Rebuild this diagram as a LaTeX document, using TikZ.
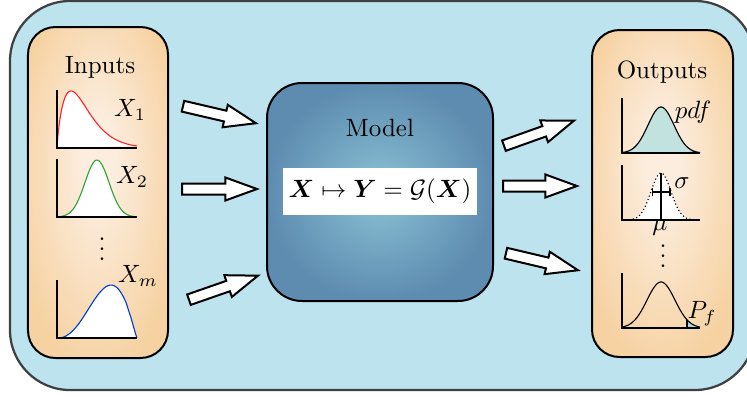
\documentclass[tikz,border=0pt]{standalone}
\usepackage{amsmath,amssymb}
\usetikzlibrary{shapes.arrows,arrows.meta,calc,positioning}
\definecolor{framebg}{RGB}{189,228,238}
\definecolor{panelin}{RGB}{252,237,222}
\definecolor{panelout}{RGB}{246,210,162}
\definecolor{modelin}{RGB}{138,194,212}
\definecolor{modelout}{RGB}{94,140,176}
\definecolor{pdffill}{RGB}{194,226,224}
\definecolor{tailfill}{RGB}{170,214,232}
\pgfdeclareradialshading{panelglow}{\pgfpoint{0bp}{6bp}}{color(0bp)=(panelin); color(6bp)=(panelin); color(30bp)=(panelout); color(50bp)=(panelout)}

\begin{document}
\begin{tikzpicture}[x=0.4pt, y=0.4pt,
  frame/.style={draw=black!75, line width=0.9pt, fill=framebg, rounded corners=24pt, minimum width=298pt, minimum height=155.6pt},
  panel/.style={draw, line width=0.8pt, rounded corners=11pt, shade, shading=panelglow},
  modelbox/.style={draw, line width=0.8pt, rounded corners=14pt, shade, shading=radial, inner color=modelin, outer color=modelout, minimum width=90.4pt, minimum height=87.2pt},
  fatarrow/.style={single arrow, draw, fill=white, line width=0.8pt, inner sep=1.8pt, single arrow head extend=2.4pt, single arrow tip angle=40},
  dots/.style={anchor=base, inner sep=0pt, text height=9.5pt},
  axis/.style={line width=0.45pt},
  curve/.style={line width=0.45pt}
]
  \useasboundingbox (0,0) rectangle (747,396);

  % boxes
  \node[frame] (frame) at (382.5,200.5) {};
  \node[panel, minimum width=56pt, minimum height=132.4pt] (inputs) at (98,203.5) {};
  \node[panel, minimum width=56.4pt, minimum height=130.8pt] (outputs) at (662.5,202.5) {};
  \node[modelbox] (model) at (380,204) {};

  \node (intitle) at (100,329) {Inputs};
  \node (outtitle) at (662,324) {Outputs};
  \node (modeltitle) at (380,268) {Model};
  \node[fill=white, inner xsep=2.4pt, minimum height=18.8pt] (mapping) at (380,205)
    {$\boldsymbol{X}\mapsto\boldsymbol{Y}=\mathcal{G}(\boldsymbol{X})$};

  % input pdfs
  \begin{scope}[shift={(57,248)}]
    \fill[white] plot[domain=0.01:80, samples=80] (\x,{57*(\x/14)^0.8*exp(0.6667*(1-(\x/14)^1.2))}) -- (0,0) -- cycle;
    \draw[curve, red!85!white] plot[domain=0.01:80, samples=80] (\x,{57*(\x/14)^0.8*exp(0.6667*(1-(\x/14)^1.2))});
    \draw[axis] (0,58) -- (0,0) -- (80,0);
  \end{scope}
  \begin{scope}[shift={(57,179)}]
    \fill[white] plot[domain=0:80, samples=60] (\x,{57*exp(-((\x-40)*(\x-40))/288)}) -- (0,0) -- cycle;
    \draw[curve, green!55!black!80!white] plot[domain=0:80, samples=60] (\x,{57*exp(-((\x-40)*(\x-40))/288)});
    \draw[axis] (0,58) -- (0,0) -- (80,0);
  \end{scope}
  \begin{scope}[shift={(57,58)}]
    \fill[white] plot[domain=0.01:79.9, samples=70] (\x,{545*(\x/80)^2.5*(1-\x/80)^1.2}) -- (79.9,0) -- (0,0) -- cycle;
    \draw[curve, blue!70!cyan!80!black] plot[domain=0.01:79.9, samples=70] (\x,{545*(\x/80)^2.5*(1-\x/80)^1.2});
    \draw[axis] (0,58) -- (0,0) -- (80,0);
  \end{scope}
  \node (labx1) at (130,286) {$X_1$};
  \node (labx2) at (132,219) {$X_2$};
  \node (labxm) at (138,120) {$X_m$};
  \node[dots] (indots) at (102,136) {$\vdots$};

  % output pdfs
  \begin{scope}[shift={(622,243)}]
    \filldraw[curve, fill=pdffill] (0,0) -- plot[domain=0:78, samples=60] (\x,{46*exp(-((\x-39)*(\x-39))/338)}) -- cycle;
    \draw[axis] (0,55) -- (0,0) -- (78,0);
  \end{scope}
  \begin{scope}[shift={(622,176)}]
    \fill[white] (0,0) -- plot[domain=0:78, samples=60] (\x,{47*exp(-((\x-39)*(\x-39))/200)}) -- cycle;
    \draw[curve, densely dotted] plot[domain=0:78, samples=60] (\x,{47*exp(-((\x-39)*(\x-39))/200)});
    \draw[axis] (39,0) -- (39,47);
    \draw[{Bar[width=3.5pt]}-{Bar[width=3.5pt]}, line width=0.7pt] (29.5,28) -- (48.5,28);
    \draw[axis] (0,55) -- (0,0) -- (78,0);
  \end{scope}
  \begin{scope}[shift={(622,68)}]
    \fill[tailfill] (65,0) -- plot[domain=65:78, samples=20] (\x,{46*exp(-((\x-39)*(\x-39))/392)}) -- (78,0) -- cycle;
    \draw[curve] plot[domain=0:78, samples=60] (\x,{46*exp(-((\x-39)*(\x-39))/392)});
    \draw[axis] (65,0) -- (65,8.2);
    \draw[axis] (0,55) -- (0,0) -- (78,0);
  \end{scope}
  \node (labpdf) at (693,284) {$pdf$};
  \node (labsigma) at (682,213) {$\sigma$};
  \node (labmu) at (660,168.5) {$\mu$};
  \node (labpf) at (702,82) {$P_f$};
  \node[dots] (outdots) at (663,129) {$\vdots$};

  % block arrows
  \coordinate (in1a) at (182,290);  \coordinate (in1b) at (255,273);
  \coordinate (in2a) at (181,207);  \coordinate (in2b) at (256,207);
  \coordinate (in3a) at (188,96);   \coordinate (in3b) at (257,120);
  \coordinate (out1a) at (503,250); \coordinate (out1b) at (573,275);
  \coordinate (out2a) at (502,210); \coordinate (out2b) at (576,210);
  \coordinate (out3a) at (505,143); \coordinate (out3b) at (577,126);
  \foreach \a/\b in {in1a/in1b, in2a/in2b, in3a/in3b, out1a/out1b, out2a/out2b, out3a/out3b}
    \path let \p1=($(\b)-(\a)$), \n1={veclen(\x1,\y1)} in
      (\a) -- (\b) node[fatarrow, pos=0, anchor=tail, sloped, minimum height=\n1] {};
\end{tikzpicture}
\end{document}
